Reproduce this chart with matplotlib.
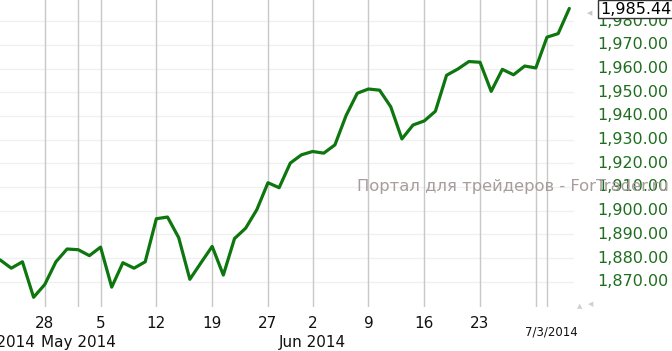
import matplotlib
matplotlib.use("Agg")
import matplotlib.pyplot as plt
from matplotlib.transforms import blended_transform_factory

# Trading days (index positions on x axis)
dates = ["2014-04-22", "2014-04-23", "2014-04-24", "2014-04-25", "2014-04-28", "2014-04-29",
         "2014-04-30", "2014-05-01", "2014-05-02", "2014-05-05", "2014-05-06", "2014-05-07",
         "2014-05-08", "2014-05-09", "2014-05-12", "2014-05-13", "2014-05-14", "2014-05-15",
         "2014-05-16", "2014-05-19", "2014-05-20", "2014-05-21", "2014-05-22", "2014-05-23",
         "2014-05-27", "2014-05-28", "2014-05-29", "2014-05-30", "2014-06-02", "2014-06-03",
         "2014-06-04", "2014-06-05", "2014-06-06", "2014-06-09", "2014-06-10", "2014-06-11",
         "2014-06-12", "2014-06-13", "2014-06-16", "2014-06-17", "2014-06-18", "2014-06-19",
         "2014-06-20", "2014-06-23", "2014-06-24", "2014-06-25", "2014-06-26", "2014-06-27",
         "2014-06-30", "2014-07-01", "2014-07-02", "2014-07-03"]
values = [1879.2, 1875.7, 1878.4, 1863.4, 1868.8, 1878.4,
          1883.8, 1883.5, 1881.0, 1884.6, 1867.7, 1878.0,
          1875.7, 1878.4, 1896.6, 1897.3, 1888.6, 1871.0,
          1878.0, 1884.9, 1872.8, 1888.2, 1892.6, 1900.4,
          1911.8, 1909.7, 1920.1, 1923.6, 1925.0, 1924.3,
          1927.8, 1940.2, 1949.6, 1951.4, 1950.9, 1943.9,
          1930.3, 1936.2, 1937.9, 1942.0, 1957.2, 1959.8,
          1963.0, 1962.7, 1950.4, 1959.7, 1957.4, 1961.1,
          1960.3, 1973.3, 1974.8, 1985.44]

# x-axis ticks: (date of gridline, label)
tick_dates = ["2014-04-28", "2014-05-01", "2014-05-05", "2014-05-12", "2014-05-19", "2014-05-27",
              "2014-06-02", "2014-06-09", "2014-06-16", "2014-06-23", "2014-06-30", "2014-07-01"]
tick_labels = ["28", "", "5", "12", "19", "27", "2", "9", "16", "23", "", ""]
month_dates = ["2014-05-01", "2014-06-02"]
month_labels = ["May 2014", "Jun 2014"]
y_ticks = [1870, 1880, 1890, 1900, 1910, 1920, 1930, 1940, 1950, 1960, 1970, 1980]
last_label = "1,985.44"
date_label = "7/3/2014"
watermark = "Портал для трейдеров - ForTrader.ru"

W, H = 672, 351
fig = plt.figure(figsize=(W / 100, H / 100), dpi=100)
fig.patch.set_facecolor("white")
ax = fig.add_axes([0, (H - 307) / H, 574 / W, 307 / H])
ax.set_xlim(-0.01, 51.42)
ax.set_ylim(1859.3, 1989.0)
ax.axis("off")

xs = list(range(len(dates)))
idx = {d: i for i, d in enumerate(dates)}

for v in y_ticks:
    ax.axhline(v, color="#f0f0f0", lw=1, zorder=1)
for d in tick_dates:
    ax.axvline(idx[d], color="#c8c8c8", lw=1, zorder=2)

ax.plot(xs, values, color="#0e760e", lw=2.3, zorder=3, solid_joinstyle="round",
        solid_capstyle="round")

trx = blended_transform_factory(ax.transData, fig.transFigure)
for d, lab in zip(tick_dates, tick_labels):
    if lab:
        ax.text(idx[d], 1 - 323 / H, lab, transform=trx, ha="center", va="center",
                fontsize=11, color="#111111")
for d, lab in zip(month_dates, month_labels):
    ax.text(idx[d], 1 - 343 / H, lab, transform=trx, ha="center", va="center",
            fontsize=11, color="#111111")
fig.text(35 / W, 1 - 343 / H, "Apr 2014", ha="right", va="center", fontsize=11, color="#111111")

fig.text(551 / W, 1 - 332 / H, date_label, ha="center", va="center", fontsize=8.5, color="#111111")

try_y = blended_transform_factory(fig.transFigure, ax.transData)
for v in y_ticks:
    fig.text(597 / W, v, f"{v:,.2f}", transform=try_y, ha="left", va="center",
             fontsize=11.5, color="#1f6e1f")

fig.text(357 / W, 1 - 187 / H, watermark, ha="left", va="center", fontsize=11.8,
         color="#a89c9c", zorder=5)

# last price box
fig.text(600 / W, 1 - 9 / H, last_label, ha="left", va="center", fontsize=11.5, color="black",
         zorder=10,
         bbox=dict(boxstyle="square,pad=0.12", facecolor="white", edgecolor="#333333", lw=1))
fig.text(590 / W, 1 - 13 / H, "\u25C0", ha="center", va="center", fontsize=5, color="#c8c8c8")
fig.text(580 / W, 1 - 306 / H, "\u25B2", ha="center", va="center", fontsize=5, color="#d0d0d0")
fig.text(591 / W, 1 - 304 / H, "\u25C0", ha="center", va="center", fontsize=5, color="#d0d0d0")

fig.savefig("out.png", dpi=100)
